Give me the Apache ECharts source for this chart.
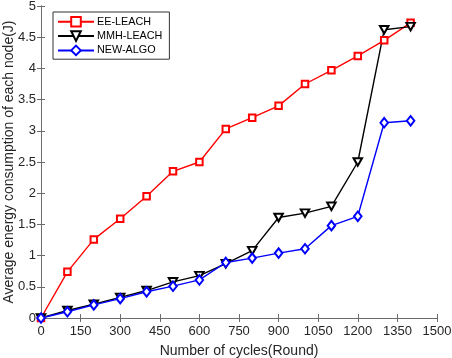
<!DOCTYPE html>
<html>
<head>
<meta charset="utf-8">
<script src="https://cdn.jsdelivr.net/npm/echarts@6/dist/echarts.min.js"></script>
<style>html,body{margin:0;padding:0;background:#fff;}#c{width:452px;height:358px;}</style>
</head>
<body>
<div id="c"></div>
<script>
const rounds = [0, 100, 200, 300, 400, 500, 600, 700, 800, 900, 1000, 1100, 1200, 1300, 1400];
const eeLeach = [0, 0.74, 1.26, 1.59, 1.95, 2.35, 2.50, 3.03, 3.21, 3.40, 3.75, 3.97, 4.20, 4.45, 4.73];
const mmhLeach = [0, 0.12, 0.22, 0.33, 0.44, 0.58, 0.68, 0.87, 1.08, 1.61, 1.68, 1.79, 2.50, 4.62, 4.67];
const newAlgo = [0, 0.10, 0.21, 0.31, 0.42, 0.51, 0.61, 0.89, 0.96, 1.04, 1.11, 1.48, 1.63, 3.13, 3.16];
const seriesNames = ['EE-LEACH', 'MMH-LEACH', 'NEW-ALGO'];
const xTitle = 'Number of cycles(Round)';
const yTitle = 'Average energy consumption of each node(J)';

const font = '"Liberation Sans", Arial, sans-serif';
const axisColor = '#6b6b6b';
const textColor = '#262626';
const pairs = vals => rounds.map((r, i) => [r, vals[i]]);

const chart = echarts.init(document.getElementById('c'), null, {renderer: 'canvas'});
const axisCommon = {
  type: 'value',
  axisLine: {show: true, lineStyle: {color: axisColor, width: 1}},
  axisTick: {show: true, inside: true, length: 4, lineStyle: {color: axisColor}},
  splitLine: {show: false},
  axisLabel: {color: textColor, fontFamily: font, fontSize: 13}
};
chart.setOption({
  animation: false,
  backgroundColor: '#fff',
  grid: {left: 41, right: 15, top: 6, bottom: 40, containLabel: false, outerBoundsMode: 'none'},
  legend: {
    data: seriesNames,
    orient: 'vertical',
    left: 53, top: 12,
    borderColor: '#333', borderWidth: 1, borderRadius: 0,
    padding: [4, 7, 3, 4],
    itemWidth: 36, itemHeight: 12, itemGap: 2.7,
    textStyle: {color: '#000', fontFamily: font, fontSize: 10.8, padding: [0, 0, 0, -2]},
    backgroundColor: '#fff'
  },
  xAxis: [
    Object.assign({}, axisCommon, {
      min: 0, max: 1500, interval: 150, position: 'bottom',
      name: xTitle, nameLocation: 'middle', nameGap: 26, nameMoveOverlap: false,
      nameTextStyle: {color: textColor, fontFamily: font, fontSize: 14},
      axisLabel: {color: textColor, fontFamily: font, fontSize: 13, margin: 7,
        formatter: v => String(v)}
    }),
    Object.assign({}, axisCommon, {
      min: 0, max: 1500, interval: 150, position: 'top',
      axisLabel: {show: false}
    })
  ],
  yAxis: [
    Object.assign({}, axisCommon, {
      min: 0, max: 5, interval: 0.5, position: 'left',
      name: yTitle, nameLocation: 'middle', nameGap: 25, nameMoveOverlap: false,
      nameTextStyle: {color: textColor, fontFamily: font, fontSize: 14},
      axisLabel: {color: textColor, fontFamily: font, fontSize: 13, margin: 5,
        formatter: v => String(v)}
    }),
    Object.assign({}, axisCommon, {
      min: 0, max: 5, interval: 0.5, position: 'right',
      axisLabel: {show: false}
    })
  ],
  series: [
    {
      name: seriesNames[0], type: 'line', data: pairs(eeLeach),
      xAxisIndex: 0, yAxisIndex: 0,
      symbol: 'emptyRect', symbolSize: 6.5,
      lineStyle: {color: '#ff0000', width: 1.4},
      itemStyle: {color: '#ff0000', borderWidth: 1.4}
    },
    {
      name: seriesNames[1], type: 'line', data: pairs(mmhLeach),
      xAxisIndex: 0, yAxisIndex: 0,
      symbol: 'emptyTriangle', symbolRotate: 180, symbolSize: [8.5, 7.5],
      lineStyle: {color: '#000000', width: 1.4},
      itemStyle: {color: '#000000', borderWidth: 1.4}
    },
    {
      name: seriesNames[2], type: 'line', data: pairs(newAlgo),
      xAxisIndex: 0, yAxisIndex: 0,
      symbol: 'emptyDiamond', symbolSize: [7.5, 9.5],
      lineStyle: {color: '#0000ff', width: 1.4},
      itemStyle: {color: '#0000ff', borderWidth: 1.4}
    }
  ]
});
</script>
</body>
</html>
